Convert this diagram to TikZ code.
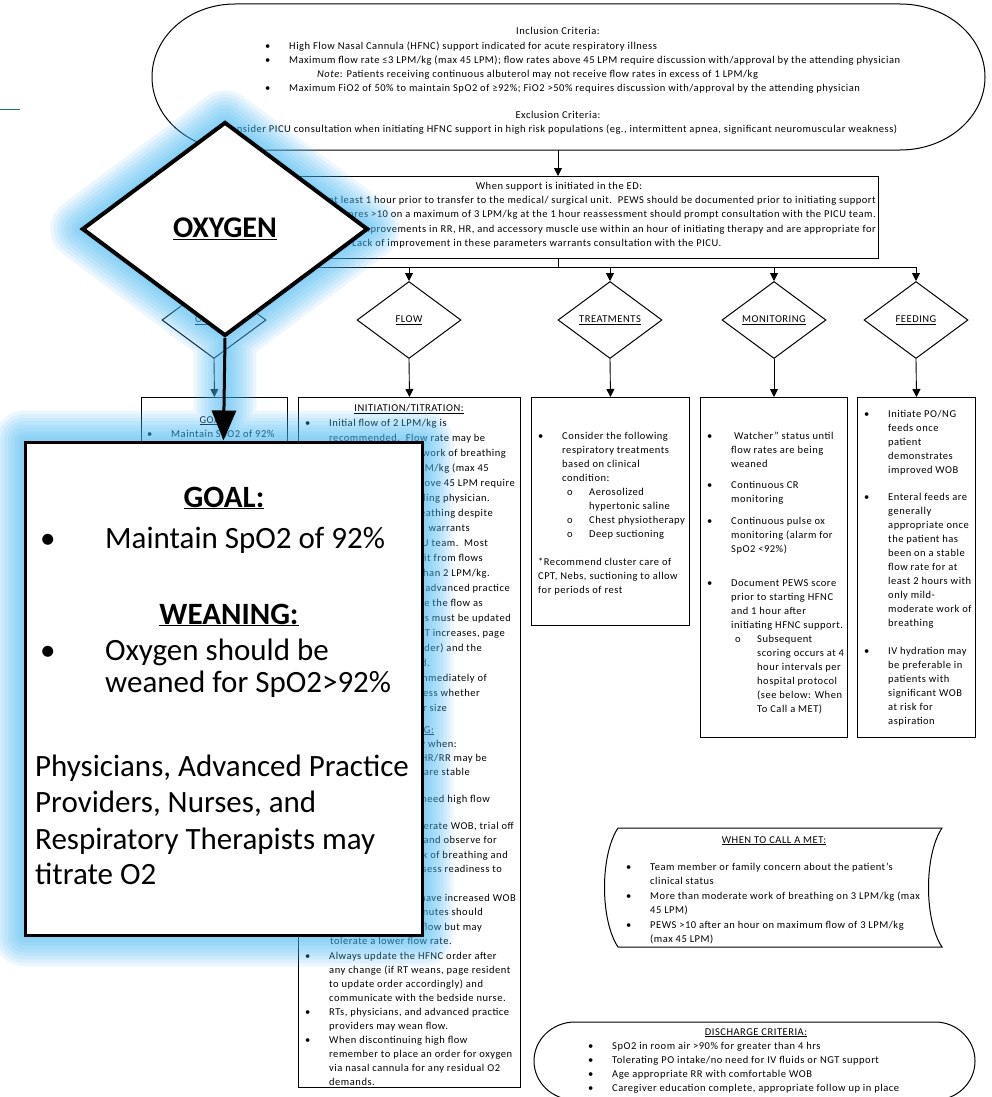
\documentclass[tikz,border=0pt]{standalone}
\usepackage{fontspec}
\setmainfont{Carlito}
\newfontfamily\smallfont[LetterSpace=5]{Carlito}
\usetikzlibrary{arrows.meta,shapes.geometric}

\definecolor{glowblue}{RGB}{70,185,245}
\definecolor{stubteal}{RGB}{30,110,120}

\newcommand\sm{\smallfont\fontsize{10.5}{14}\selectfont}
\newcommand\Bul{\makebox[24pt][l]{\textbullet}}
\newcommand\Ind{\hspace*{24pt}}
\newcommand\Sub{\makebox[22pt][l]{o}}

\tikzset{
  box/.style={draw=black, line width=1pt, fill=white, inner sep=0pt, anchor=north west},
  conn/.style={draw=black, line width=0.9pt, -{Triangle[width=8pt,length=8pt]}},
  bus/.style={draw=black, line width=0.9pt},
  smdia/.style={draw=black, line width=1pt, fill=white, shape=diamond, inner sep=0pt,
    minimum width=104pt, minimum height=77pt, font=\sm},
  % single line, placed by its baseline
  ln/.style={inner sep=0pt, font=\sm, anchor=base west},
  % several lines, placed by the baseline of the first one
  ml/.style={inner sep=0pt, font=\sm, align=left, anchor=north west, yshift=6pt,
    execute at begin node={\rule{0pt}{10pt}}},
  bigtx/.style={inner sep=0pt, font=\fontsize{31}{36}\selectfont, anchor=base west},
}

\begin{document}
\begin{tikzpicture}[x=1pt,y=-1pt]
\useasboundingbox (0,0) rectangle (992,1097);
\fill[white] (0,0) rectangle (992,1097);

% short connector stub at the left margin
\coordinate (stubA) at (0,110);
\coordinate (stubB) at (20,110);
\draw[stubteal, line width=1pt] (stubA) -- (stubB);

% ---------------- inclusion / exclusion terminator ----------------
\draw[line width=1pt] (235,4) -- (900,4)
  arc[start angle=90,end angle=-90,x radius=85pt,y radius=73pt]
  -- (235,150) arc[start angle=-90,end angle=-270,x radius=83pt,y radius=73pt] -- cycle;
\coordinate (inclbot) at (558,150);
\node[ln, anchor=base] (inclhd) at (558,35) {Inclusion Criteria:};
\node[ml] (incltx) at (265,48) {\Bul High Flow Nasal Cannula (HFNC) support indicated for acute respiratory illness\\
\Bul Maximum flow rate ≤3 LPM/kg (max 45 LPM); flow rates above 45 LPM require discussion with/approval by the attending physician\\
\hspace*{52pt}\textit{Note}: Patients receiving continuous albuterol may not receive flow rates in excess of 1 LPM/kg\\
\Bul Maximum FiO2 of 50\% to maintain SpO2 of ≥92\%; FiO2 >50\% requires discussion with/approval by the attending physician};
\node[ln, anchor=base] (exclhd) at (558,119) {Exclusion Criteria:};
\node[ln, anchor=base] (excltx) at (561,132) {Consider PICU consultation when initiating HFNC support in high risk populations (eg., intermittent apnea, significant neuromuscular weakness)};

% ---------------- ED box ----------------
\node[box, minimum width=628pt, minimum height=82pt] (edbox) at (250,176) {};
\draw[conn] (inclbot) -- (inclbot |- edbox.north);
\node[ln, anchor=base] (edhd) at (559,189) {When support is initiated in the ED:};
\node[ln, anchor=base east] (ed1) at (876,203) {continued for at least 1 hour prior to transfer to the medical/ surgical unit.\ \ PEWS should be documented prior to initiating support};
\node[ln, anchor=base east] (ed2) at (876,217) {at 1 hour.\ \ Scores >10 on a maximum of 3 LPM/kg at the 1 hour reassessment should prompt consultation with the PICU team.};
\node[ln, anchor=base east] (ed3) at (876,232) {demonstrate improvements in RR, HR, and accessory muscle use within an hour of initiating therapy and are appropriate for};
\node[ln, anchor=base east] (ed4a) at (346,246) {floor.};
\node[ln] (ed4b) at (352,246) {Lack of improvement in these parameters warrants consultation with the PICU.};

% ---------------- decision diamonds ----------------
\node[smdia] (oxd) at (214,320) {\underline{OXYGEN}};
\node[smdia] (flowd) at (409,320) {\underline{FLOW}};
\node[smdia] (treatd) at (610,320) {\underline{TREATMENTS}};
\node[smdia] (mond) at (774,320) {\underline{MONITORING}};
\node[smdia] (feedd) at (916,320) {\underline{FEEDING}};

\coordinate (busmid) at (558,267);
\draw[bus] (edbox.south -| inclbot) -- (busmid);
\draw[bus] (oxd.north |- busmid) -- (feedd.north |- busmid);
\foreach \d in {oxd,flowd,treatd,mond,feedd}
  \draw[conn] (\d.north |- busmid) -- (\d.north);

% ---------------- content boxes ----------------
\node[box, minimum width=146pt, minimum height=500pt] (oxbox) at (141,397) {};
\node[box, minimum width=222pt, minimum height=690pt] (flowbox) at (298,397) {};
\node[box, minimum width=158pt, minimum height=228pt] (treatbox) at (531,397) {};
\node[box, minimum width=147pt, minimum height=340pt] (monbox) at (700,397) {};
\node[box, minimum width=118pt, minimum height=340pt] (feedbox) at (857,397) {};
\draw[conn] (oxd.south) -- (oxbox.north);
\draw[conn] (flowd.south) -- (flowbox.north);
\draw[conn] (treatd.south) -- (treatbox.north);
\draw[conn] (mond.south) -- (monbox.north);
\draw[conn] (feedd.south) -- (feedbox.north);

% oxygen column
\node[ln, anchor=base] (oxhd) at (214,423) {\underline{GOAL:}};
\node[ln] (oxtx) at (147,437) {\Bul Maintain SpO2 of 92\%};

% flow column
\node[ln, anchor=base] (flowhd) at (409,411) {\underline{INITIATION/TITRATION:}};
\node[ln] (flow1) at (305,426) {\Bul Initial flow of 2 LPM/kg is};
\node[ln] (flow1b) at (329,441) {recommended.\ \ Flow rate may be};
\foreach \yy/\xx/\ltxt in {
  456/506/{work of breathing},
  471/489/{LPM/kg (max 45},
  486/515/{above 45 LPM require},
  501/490/{attending physician.},
  516/493/{breathing despite},
  531/470/{warrants},
  546/488/{PICU team.\ \ Most},
  561/483/{benefit from flows},
  576/490/{than 2 LPM/kg.},
  591/510/{and advanced practice},
  606/483/{increase the flow as},
  621/511/{orders must be updated},
  636/505/{RT increases, page},
  651/482/{order) and the},
  666/430/{notified.},
  681/487/{immediately of},
  696/480/{assess whether},
  711/447/{larger size},
  747/457/{gradually when:},
  761/487/{HR/RR may be},
  775/470/{are stable},
  802/490/{need high flow},
  829/514/{moderate WOB, trial off},
  843/497/{room air and observe for},
  858/508/{work of breathing and},
  872/502/{to assess readiness to},
  901/516/{who have increased WOB},
  915/483/{30 minutes should},
  930/482/{high flow but may}}
  \node[ln, anchor=base east] at (\xx,\yy) {\ltxt};
\node[ln, anchor=base] (weanhd) at (409,733) {\underline{WEANING:}};
\node[ln] (flow2) at (330,944) {tolerate a lower flow rate.};
\node[ml] (flow3) at (305,958) {\Bul Always update the HFNC order after\\
\Ind any change (if RT weans, page resident\\
\Ind to update order accordingly) and\\
\Ind communicate with the bedside nurse.\\
\Bul RTs, physicians, and advanced practice\\
\Ind providers may wean flow.\\
\Bul When discontinuing high flow\\
\Ind remember to place an order for oxygen\\
\Ind via nasal cannula for any residual O2\\
\Ind demands.};

% treatments column
\node[ml] (treattx) at (538,438) {\Bul Consider the following\\
\Ind respiratory treatments\\
\Ind based on clinical\\
\Ind condition:\\
\hspace*{29pt}\Sub Aerosolized\\
\hspace*{51pt}hypertonic saline\\
\hspace*{29pt}\Sub Chest physiotherapy\\
\hspace*{29pt}\Sub Deep suctioning\\[14pt]
*Recommend cluster care of\\
CPT, Nebs, suctioning to allow\\
for periods of rest};

% monitoring column
\node[ml] (montx) at (707,438) {\Bul \ Watcher” status until\\
\Ind flow rates are being\\
\Ind weaned\\[7pt]
\Bul Continuous CR\\
\Ind monitoring\\[8pt]
\Bul Continuous pulse ox\\
\Ind monitoring (alarm for\\
\Ind SpO2 <92\%)\\[20pt]
\Bul Document PEWS score\\
\Ind prior to starting HFNC\\
\Ind and 1 hour after\\
\Ind initiating HFNC support.\\
\hspace*{28pt}\Sub Subsequent\\
\hspace*{50pt}scoring occurs at 4\\
\hspace*{50pt}hour intervals per\\
\hspace*{50pt}hospital protocol\\
\hspace*{50pt}(see below: When\\
\hspace*{50pt}To Call a MET)};

% feeding column
\node[ml] (feedtx) at (864,416) {\Bul Initiate PO/NG\\
\Ind feeds once\\
\Ind patient\\
\Ind demonstrates\\
\Ind improved WOB\\[13pt]
\Bul Enteral feeds are\\
\Ind generally\\
\Ind appropriate once\\
\Ind the patient has\\
\Ind been on a stable\\
\Ind flow rate for at\\
\Ind least 2 hours with\\
\Ind only mild-\\
\Ind moderate work of\\
\Ind breathing\\[14pt]
\Bul IV hydration may\\
\Ind be preferable in\\
\Ind patients with\\
\Ind significant WOB\\
\Ind at risk for\\
\Ind aspiration};

% ---------------- when to call a MET ----------------
\draw[line width=1pt] (618,828) -- (942,828)
  .. controls (924,855) and (924,920) .. (942,947) -- (618,947)
  .. controls (600,920) and (600,855) .. (618,828) -- cycle;
\node[ln, anchor=base] (methd) at (774,843) {\underline{WHEN TO CALL A MET:}};
\node[ml] (mettx) at (626,869) {\Bul Team member or family concern about the patient’s\\
\Ind clinical status\\[1pt]
\Bul More than moderate work of breathing on 3 LPM/kg (max\\
\Ind 45 LPM)\\[1pt]
\Bul PEWS >10 after an hour on maximum flow of 3 LPM/kg\\
\Ind (max 45 LPM)};

% ---------------- discharge criteria ----------------
\draw[line width=1pt] (575,1022) -- (935,1022)
  arc[start angle=90,end angle=-90,x radius=40pt,y radius=39pt]
  -- (575,1100) arc[start angle=-90,end angle=-270,x radius=41pt,y radius=39pt] -- cycle;
\node[ln, anchor=base] (dchd) at (756,1035) {\underline{DISCHARGE CRITERIA:}};
\node[ml] (dctx) at (588,1048) {\Bul SpO2 in room air >90\% for greater than 4 hrs\\
\Bul Tolerating PO intake/no need for IV fluids or NGT support\\
\Bul Age appropriate RR with comfortable WOB\\
\Bul Caregiver education complete, appropriate follow up in place};

% ---------------- oxygen call-out with glow ----------------
\coordinate (bdN) at (225,122);
\coordinate (bdE) at (368,229);
\coordinate (bdS) at (225,336);
\coordinate (bdW) at (82,229);
\coordinate (gbNW) at (25,442);
\coordinate (gbSE) at (422,935);
\foreach \k in {1,...,9}
  \draw[glowblue, opacity=0.1, line width=7*\k pt, line join=round, line cap=round]
    (bdN) -- (bdE) -- (bdS) -- (bdW) -- cycle
    (gbNW) rectangle (gbSE)
    (bdS) -- (bdS |- gbNW);

\node[draw=black, line width=4pt, fill=white, shape=diamond, inner sep=0pt,
  minimum width=286pt, minimum height=214pt,
  font=\fontsize{30}{36}\selectfont\bfseries] (bigd) at (225,229) {\underline{OXYGEN}};
\node[draw=black, line width=3pt, fill=white, inner sep=0pt,
  minimum width=397pt, minimum height=493pt] (goalbox) at (223.5,688.5) {};
\draw[line width=3pt, -{Triangle[width=24pt,length=30pt]}] (bigd.south) -- (goalbox.north);

\node[bigtx, anchor=base] (goalhd) at (224,507) {\textbf{\underline{GOAL:}}};
\node[bigtx] (gbul1) at (40,548) {\textbullet};
\node[bigtx] (goal1) at (105,548) {Maintain SpO2 of 92\%};
\node[bigtx, anchor=base] (weanbig) at (229,624) {\textbf{\underline{WEANING:}}};
\node[bigtx] (gbul2) at (40,660) {\textbullet};
\node[bigtx] (wean1) at (105,660) {Oxygen should be};
\node[bigtx] (wean2) at (105,692) {weaned for SpO2>92\%};
\node[bigtx] (who1) at (35,776) {Physicians, Advanced Practice};
\node[bigtx] (who2) at (35,812) {Providers, Nurses, and};
\node[bigtx] (who3) at (35,849) {Respiratory Therapists may};
\node[bigtx] (who4) at (35,884) {titrate O2};
\end{tikzpicture}
\end{document}
